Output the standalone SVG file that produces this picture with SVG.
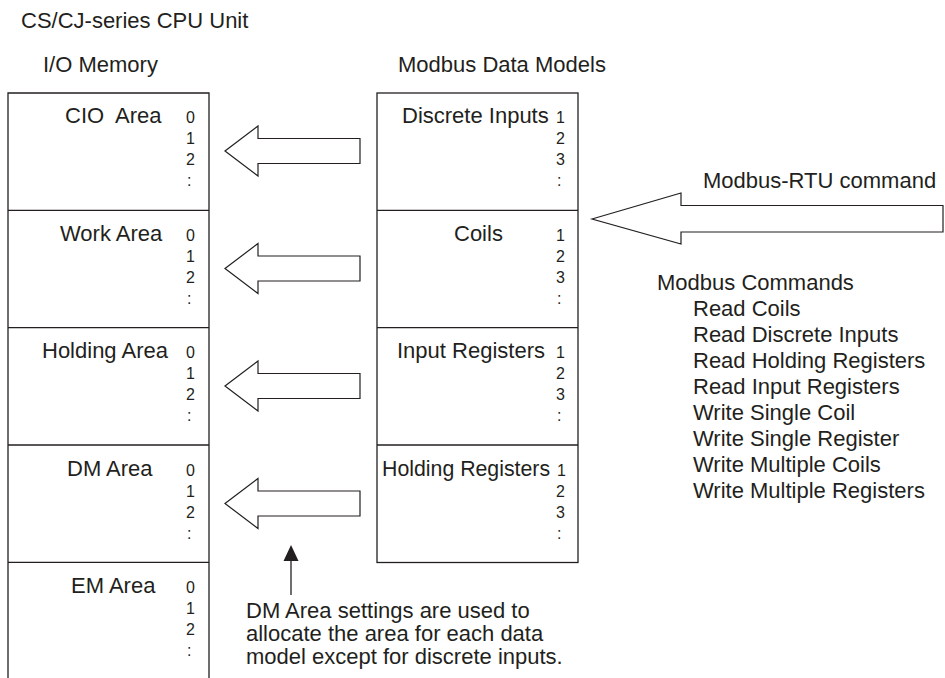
<svg xmlns="http://www.w3.org/2000/svg" width="945" height="678" viewBox="0 0 945 678">
<style>
text{font-family:"Liberation Sans",Arial,Helvetica,sans-serif;fill:#231f20}
.lbl{font-size:22px}
.num{font-size:16px}
.box{fill:#fff;stroke:#231f20;stroke-width:1.3}
.ar{fill:#fff;stroke:#231f20;stroke-width:1.2;stroke-linejoin:miter}
.ln{stroke:#231f20;stroke-width:1.3;fill:none}
</style>
<rect width="945" height="678" fill="#fff"/>
<g id="titles">
<text class="lbl" x="21" y="28">CS/CJ-series CPU Unit</text>
<text class="lbl" x="43" y="72">I/O Memory</text>
<text class="lbl" x="398" y="72">Modbus Data Models</text>
</g>
<g id="io-memory">
<path class="ln" d="M8,678 V93 H209 V678"/>
<g id="cio">
<text class="lbl" x="65" y="123" xml:space="preserve">CIO  Area</text>
<text class="num" x="186" y="123">0</text><text class="num" x="186" y="144">1</text><text class="num" x="186" y="165">2</text><text class="num" x="187" y="186">:</text>
</g>
<g id="work">
<line class="ln" x1="8" y1="210.3" x2="209" y2="210.3"/>
<text class="lbl" x="60" y="240.5">Work Area</text>
<text class="num" x="186" y="240.5">0</text><text class="num" x="186" y="261.5">1</text><text class="num" x="186" y="282.5">2</text><text class="num" x="187" y="303.5">:</text>
</g>
<g id="holding">
<line class="ln" x1="8" y1="327.6" x2="209" y2="327.6"/>
<text class="lbl" x="42" y="358">Holding Area</text>
<text class="num" x="186" y="358">0</text><text class="num" x="186" y="379">1</text><text class="num" x="186" y="400">2</text><text class="num" x="187" y="421">:</text>
</g>
<g id="dm">
<line class="ln" x1="8" y1="445" x2="209" y2="445"/>
<text class="lbl" x="67" y="475.5">DM Area</text>
<text class="num" x="186" y="475.5">0</text><text class="num" x="186" y="496.5">1</text><text class="num" x="186" y="517.5">2</text><text class="num" x="187" y="538.5">:</text>
</g>
<g id="em">
<line class="ln" x1="8" y1="562.3" x2="209" y2="562.3"/>
<text class="lbl" x="71" y="593">EM Area</text>
<text class="num" x="186" y="593">0</text><text class="num" x="186" y="614">1</text><text class="num" x="186" y="635">2</text><text class="num" x="187" y="656">:</text>
</g>
</g>
<g id="modbus-models">
<rect class="box" x="377" y="93" width="201" height="469.5"/>
<g id="discrete-inputs">
<text class="lbl" x="402" y="123">Discrete Inputs</text>
<text class="num" x="556" y="123">1</text><text class="num" x="556" y="144">2</text><text class="num" x="556" y="165">3</text><text class="num" x="557" y="186">:</text>
</g>
<g id="coils">
<line class="ln" x1="377" y1="210.3" x2="578" y2="210.3"/>
<text class="lbl" x="454" y="240.5">Coils</text>
<text class="num" x="556" y="240.5">1</text><text class="num" x="556" y="261.5">2</text><text class="num" x="556" y="282.5">3</text><text class="num" x="557" y="303.5">:</text>
</g>
<g id="input-registers">
<line class="ln" x1="377" y1="327.6" x2="578" y2="327.6"/>
<text class="lbl" x="397" y="358">Input Registers</text>
<text class="num" x="556" y="358">1</text><text class="num" x="556" y="379">2</text><text class="num" x="556" y="400">3</text><text class="num" x="557" y="421">:</text>
</g>
<g id="holding-registers">
<line class="ln" x1="377" y1="445" x2="578" y2="445"/>
<text class="lbl" x="382" y="475.5" style="font-size:21.3px">Holding Registers</text>
<text class="num" x="557" y="475.5">1</text><text class="num" x="556" y="496.5">2</text><text class="num" x="556" y="517.5">3</text><text class="num" x="557" y="538.5">:</text>
</g>
</g>
<g id="commands">
<text class="lbl" x="703" y="188">Modbus-RTU command</text>
<text class="lbl" x="657" y="290">Modbus Commands</text>
<text class="lbl" x="693" y="316">Read Coils</text>
<text class="lbl" x="693" y="342">Read Discrete Inputs</text>
<text class="lbl" x="693" y="368">Read Holding Registers</text>
<text class="lbl" x="693" y="394">Read Input Registers</text>
<text class="lbl" x="693" y="420">Write Single Coil</text>
<text class="lbl" x="693" y="446">Write Single Register</text>
<text class="lbl" x="693" y="472">Write Multiple Coils</text>
<text class="lbl" x="693" y="498">Write Multiple Registers</text>
</g>
<g id="note">
<text class="lbl" x="246" y="618">DM Area settings are used to</text>
<text class="lbl" x="246" y="641">allocate the area for each data</text>
<text class="lbl" x="246" y="664">model except for discrete inputs.</text>
</g>
<g id="connectors">
<polygon class="ar" points="225,151 258,126 258,138.5 360,138.5 360,163.5 258,163.5 258,176"/>
<polygon class="ar" points="225,268.5 258,243.5 258,256 360,256 360,281 258,281 258,293.5"/>
<polygon class="ar" points="225,386 258,361 258,373.5 360,373.5 360,398.5 258,398.5 258,411"/>
<polygon class="ar" points="225,503.5 258,478.5 258,491 360,491 360,516 258,516 258,528.5"/>
<polygon class="ar" points="592,219 681,193 681,205.5 943,205.5 943,232 681,232 681,244"/>
<line class="ln" x1="291" y1="559" x2="291" y2="595"/>
<polygon points="291,545 283.5,561 298.5,561" fill="#231f20"/>
</g>
</svg>
